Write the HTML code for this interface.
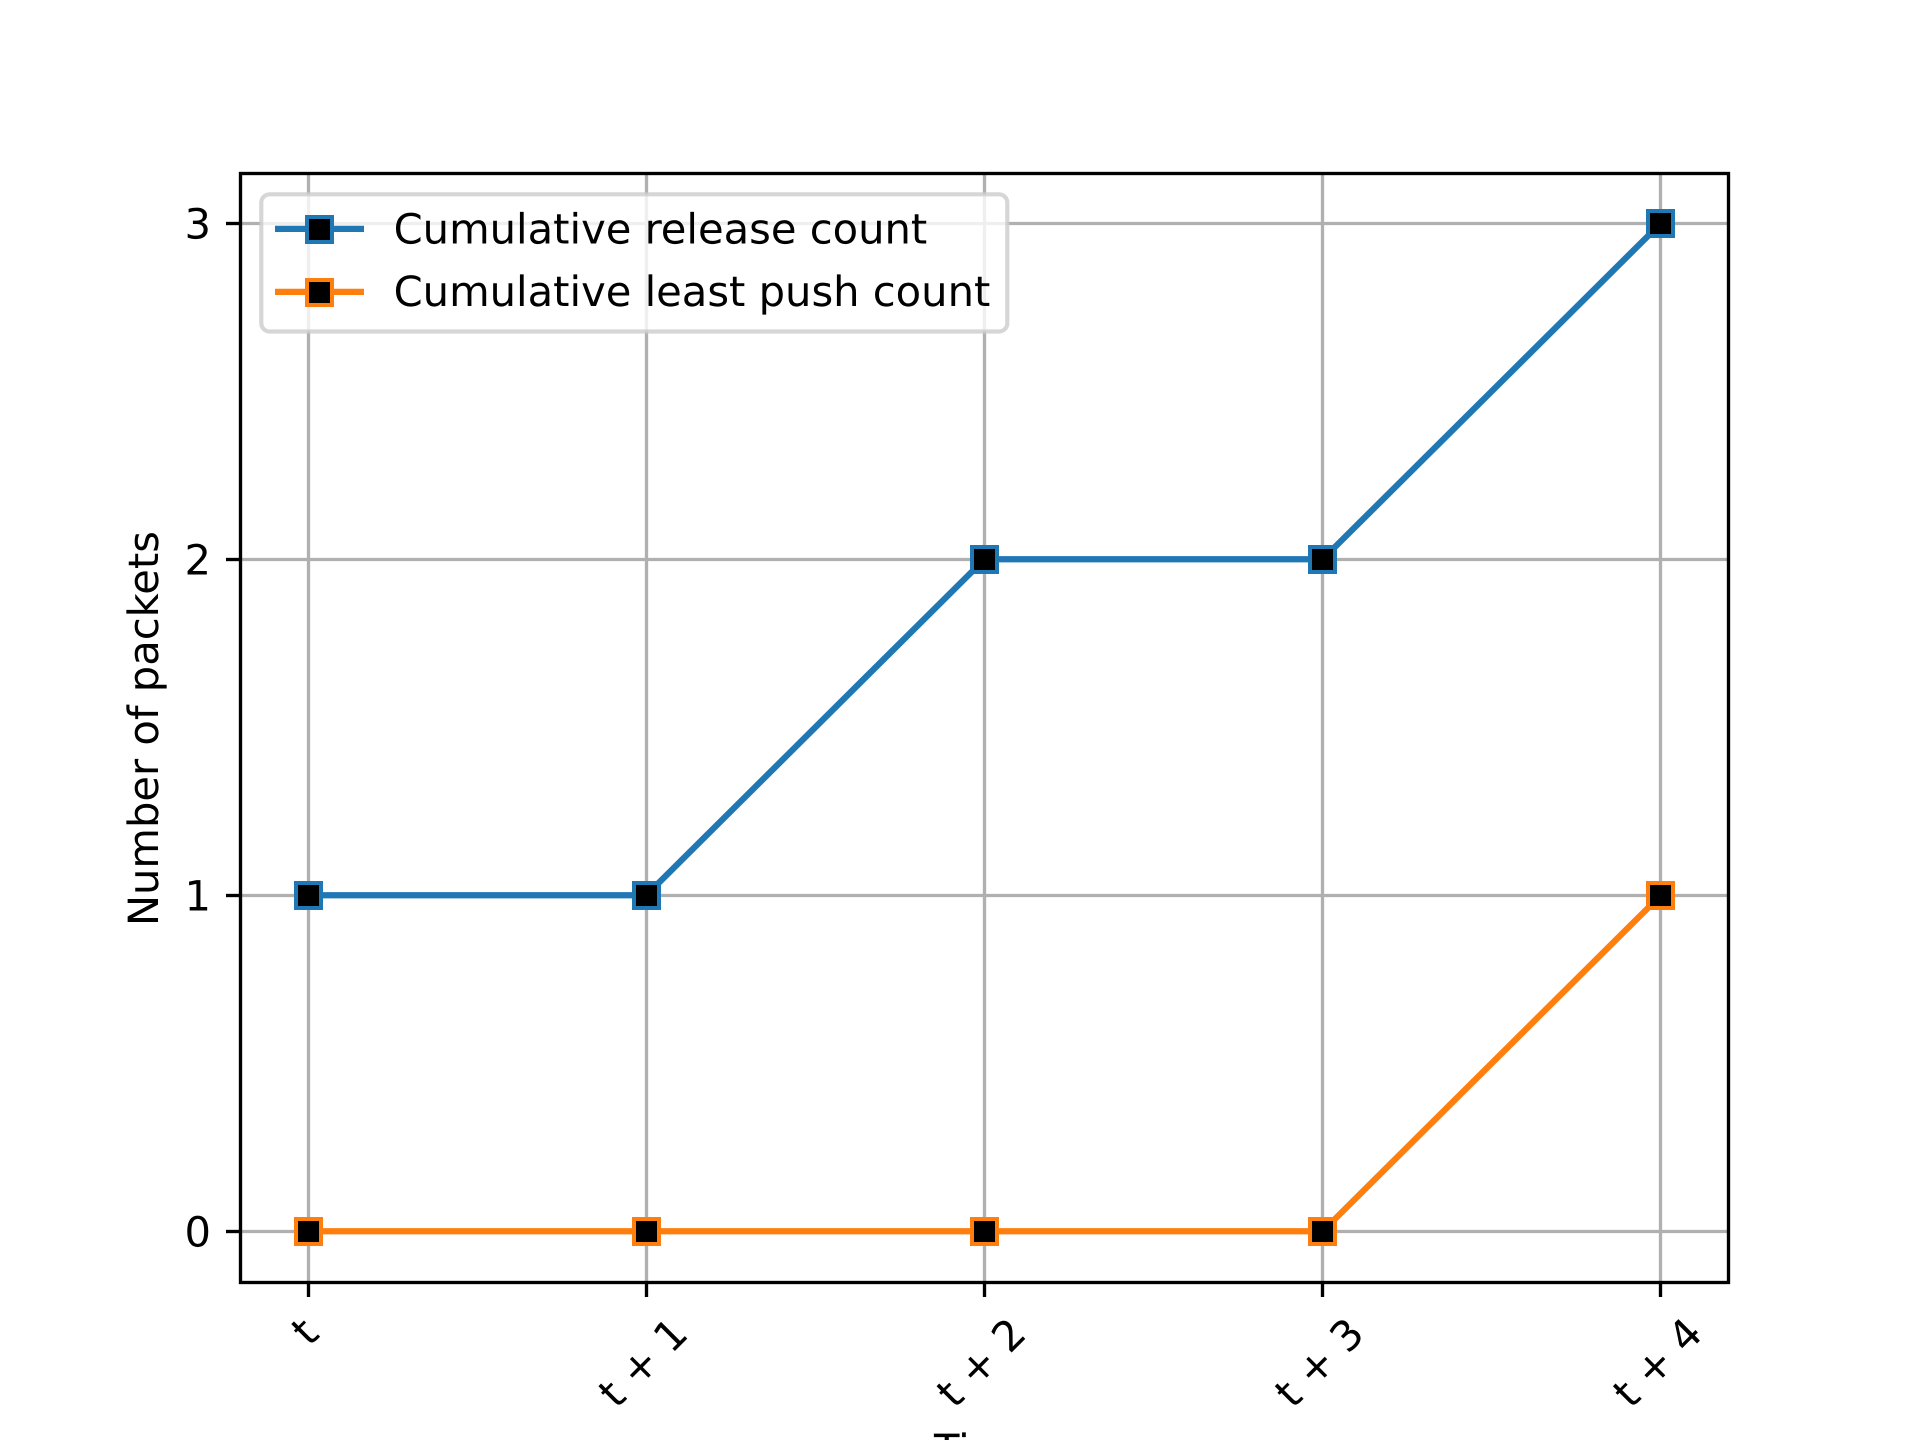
<!DOCTYPE html>
<html lang="en">
<head>
<meta charset="utf-8">
<title>Cumulative packet counts</title>
<style>
  html, body { margin: 0; padding: 0; background: #fff; }
  body { width: 1920px; height: 1440px; overflow: hidden; }
  svg { display: block; }
  text { font-family: "DejaVu Sans", "Liberation Sans", sans-serif; font-size: 41.67px; fill: #000; text-rendering: geometricPrecision; }
</style>
</head>
<body>
<svg id="chart" xmlns="http://www.w3.org/2000/svg" width="1920" height="1440" viewBox="0 0 1920 1440">
  <rect x="0" y="0" width="1920" height="1440" fill="#ffffff"/>
  <g id="grid"></g>
  <g id="series"></g>
  <g id="axes"></g>
  <g id="legend">
    <rect x="261.3" y="194.3" width="746" height="137.2" rx="8.3" ry="8.3" fill="#ffffff" fill-opacity="0.8" stroke="#cccccc" stroke-opacity="0.8" stroke-width="4.17"/>
    <g>
      <line x1="275" y1="228.9" x2="364" y2="228.9" stroke="#1f77b4" stroke-width="6.25"/>
      <rect x="307" y="217" width="25" height="25" fill="#000000" stroke="#1f77b4" stroke-width="4"/>
      <text x="393.6" y="243.5">Cumulative release count</text>
    </g>
    <g>
      <line x1="275" y1="291.9" x2="364" y2="291.9" stroke="#ff7f0e" stroke-width="6.25"/>
      <rect x="307" y="280" width="25" height="25" fill="#000000" stroke="#ff7f0e" stroke-width="4"/>
      <text x="393.6" y="306">Cumulative least push count</text>
    </g>
  </g>
</svg>
<script>
const categories = ["t", "t + 1", "t + 2", "t + 3", "t + 4"];
const releaseCounts = [1, 1, 2, 2, 3];
const leastPushCounts = [0, 0, 0, 0, 1];
const yTickValues = [0, 1, 2, 3];
const yTickLabels = ["0", "1", "2", "3"];

const NS = "http://www.w3.org/2000/svg";
const plot = { left: 240, right: 1728, top: 172.8, bottom: 1281.6 };

const allValues = releaseCounts.concat(leastPushCounts);
const yMin = Math.min.apply(null, allValues);
const yMax = Math.max.apply(null, allValues);
const yPad = (yMax - yMin) * 0.05;
const xPad = (categories.length - 1) * 0.05;

function xScale(i) {
  const lo = -xPad;
  const hi = categories.length - 1 + xPad;
  return plot.left + (i - lo) / (hi - lo) * (plot.right - plot.left);
}
function yScale(v) {
  const lo = yMin - yPad;
  const hi = yMax + yPad;
  return plot.bottom - (v - lo) / (hi - lo) * (plot.bottom - plot.top);
}
function snap(p) {
  return Math.round(p) + 0.5;
}
function make(tag, attrs, parent) {
  const el = document.createElementNS(NS, tag);
  Object.keys(attrs).forEach(function (k) { el.setAttribute(k, attrs[k]); });
  parent.appendChild(el);
  return el;
}

const gridG = document.getElementById("grid");
const seriesG = document.getElementById("series");
const axesG = document.getElementById("axes");

const frameLeft = snap(plot.left);
const frameRight = snap(plot.right);
const frameTop = snap(plot.top);
const frameBottom = snap(plot.bottom);

/* grid lines */
categories.forEach(function (c, i) {
  const x = snap(xScale(i));
  const ln = make("line", { x1: x, x2: x, y1: frameTop, y2: frameBottom, stroke: "#b0b0b0", "stroke-width": 3.33 }, gridG);
  
  
});
yTickValues.forEach(function (v) {
  const y = snap(yScale(v));
  const ln = make("line", { x1: frameLeft, x2: frameRight, y1: y, y2: y, stroke: "#b0b0b0", "stroke-width": 3.33 }, gridG);
  
  
});

/* series */
function drawSeries(values, color, seriesName) {
  const pts = values.map(function (v, i) { return (xScale(i) + 0.4) + "," + (yScale(v) + 0.1); }).join(" ");
  const line = make("polyline", { points: pts, fill: "none", stroke: color, "stroke-width": 6.25, "stroke-linejoin": "round", "stroke-linecap": "square" }, seriesG);
  
  
  values.forEach(function (v, i) {
    const m = make("rect", { x: snap(xScale(i)) - 12.5, y: snap(yScale(v)) - 12.5, width: 25, height: 25, fill: "#000000", stroke: color, "stroke-width": 4 }, seriesG);
    
    
  });
}
drawSeries(releaseCounts, "#1f77b4", "release-count");
drawSeries(leastPushCounts, "#ff7f0e", "least-push-count");

/* spines */
const spine = make("rect", { x: frameLeft, y: frameTop, width: frameRight - frameLeft, height: frameBottom - frameTop, fill: "none", stroke: "#000000", "stroke-width": 3.33 }, axesG);



/* x ticks and labels */
categories.forEach(function (c, i) {
  const x = xScale(i);
  const sx = snap(x);
  const tick = make("line", { x1: sx, x2: sx, y1: frameBottom, y2: 1297, stroke: "#000000", "stroke-width": 3.33 }, axesG);
  
  
  const label = make("text", { "text-anchor": "middle" }, axesG);
  
  
  label.textContent = c;
  const w = label.getComputedTextLength();
  const px = x + 7.4;
  const py = 1341.6 + (w - 16) * 0.7071 / 2;
  label.setAttribute("x", px);
  label.setAttribute("y", py);
  label.setAttribute("transform", "rotate(-45 " + px + " " + py + ")");
});

/* y ticks and labels */
yTickValues.forEach(function (v, i) {
  const y = yScale(v);
  const sy = snap(y);
  const tick = make("line", { x1: 226, x2: frameLeft, y1: sy, y2: sy, stroke: "#000000", "stroke-width": 3.33 }, axesG);
  
  
  const label = make("text", { x: 211, y: y + 15.2, "text-anchor": "end" }, axesG);
  
  
  label.textContent = yTickLabels[i];
});

/* axis titles */
const yTitle = make("text", { x: 158, y: 728.6, "text-anchor": "middle", transform: "rotate(-90 158 728.6)" }, axesG);


yTitle.textContent = "Number of packets";

const xTitle = make("text", { x: 985, y: 1464, "text-anchor": "middle" }, axesG);


xTitle.textContent = "Time";
</script>
</body>
</html>
